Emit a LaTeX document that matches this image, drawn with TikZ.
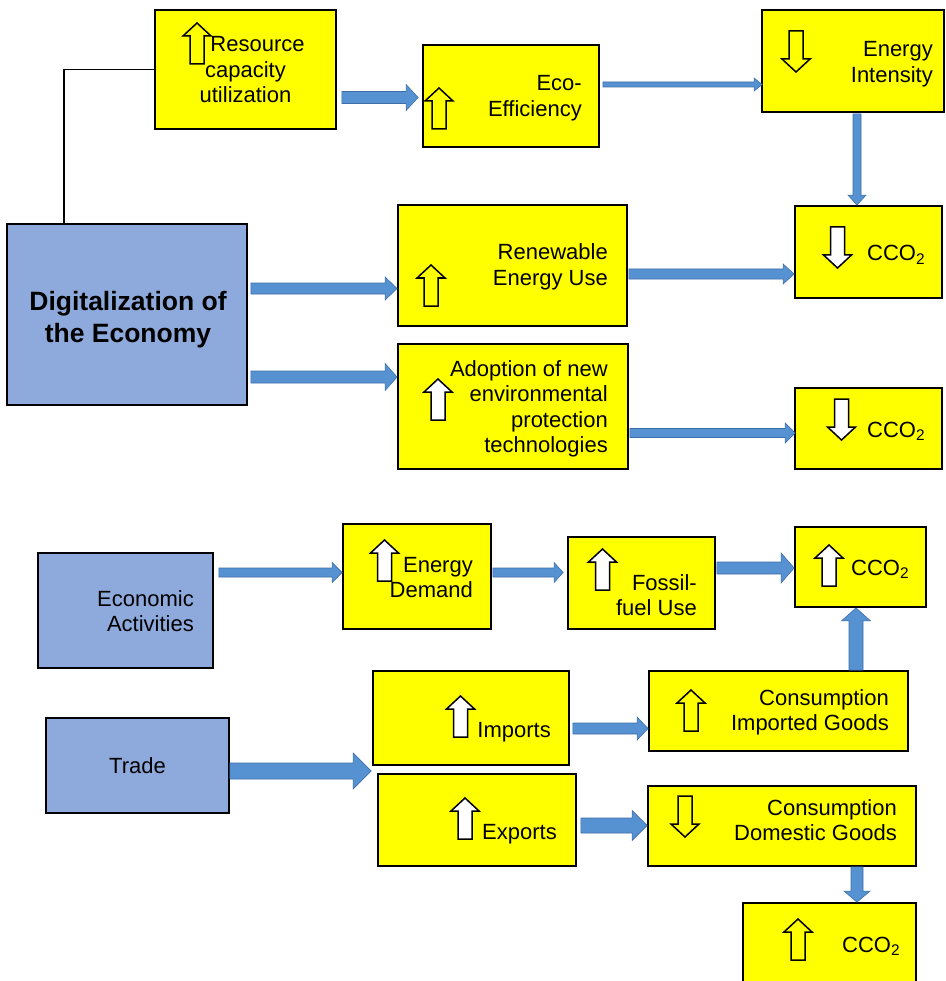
\documentclass[tikz,border=0pt]{standalone}
\usepackage{fontspec}
\setmainfont{Liberation Sans}
\usetikzlibrary{fit,calc}
\definecolor{byel}{RGB}{255,255,0}
\definecolor{bblue}{RGB}{142,169,219}
\definecolor{arrblue}{RGB}{86,146,210}
\definecolor{arrline}{RGB}{62,110,170}
\newcommand\fs{\fontsize{22}{25.5}\selectfont}
\newcommand\rl[1]{\begin{tabular}[t]{@{}r@{}}#1\end{tabular}}
\newcommand\cl[1]{\begin{tabular}[t]{@{}c@{}}#1\end{tabular}}
% block arrow: start, tip, half shaft, half head, head length
\newcommand\barrow[5]{%
  \coordinate (bs) at (#1);
  \coordinate (be) at (#2);
  \coordinate (bh) at ($(be)!#5pt!(bs)$);
  \draw[flowarrow] ($(bs)!#3pt!90:(be)$) -- ($(bh)!#3pt!90:(be)$) -- ($(bh)!#4pt!90:(be)$)
     -- (be) -- ($(bh)!#4pt!-90:(be)$) -- ($(bh)!#3pt!-90:(be)$) -- ($(bs)!#3pt!-90:(be)$) -- cycle;}
% hollow up / down arrows: centre x, top y, fill
\newcommand\hup[3]{\draw[hollow, fill=#3] (#1,#2) -- ++(14,13) -- ++(-7,0) -- ++(0,28) -- ++(-14,0) -- ++(0,-28) -- ++(-7,0) -- cycle;}
\newcommand\hdown[3]{\draw[hollow, fill=#3] (#1,#2+41) -- ++(14,-13) -- ++(-7,0) -- ++(0,-28) -- ++(-14,0) -- ++(0,28) -- ++(-7,0) -- cycle;}
\tikzset{
  ybox/.style={draw=black, line width=1.8pt, fill=byel, inner sep=0pt},
  bbox/.style={draw=black, line width=1.8pt, fill=bblue, inner sep=0pt},
  txt/.style={inner sep=0pt, font=\fs, text=black},
  dtxt/.style={inner sep=0pt, font=\fontsize{26.5}{32}\selectfont\bfseries, text=black},
  flowarrow/.style={fill=arrblue, draw=arrline, line width=0.6pt, line join=miter},
  hollow/.style={draw=black, line width=1.5pt, line join=miter},
  conn/.style={draw=black, line width=1.5pt}
}
\begin{document}
\begin{tikzpicture}[x=1pt, y=-1pt]
\useasboundingbox (0,0) rectangle (945,981);
% boxes
\node[ybox, fit={(155,10) (336,129)}] (res) {};
\node[ybox, fit={(423,45) (599,147)}] (eco) {};
\node[ybox, fit={(762,10) (944,112)}] (ei) {};
\node[ybox, fit={(795,206) (942,298)}] (c1) {};
\node[bbox, fit={(7,224) (247,405)}] (dig) {};
\node[ybox, fit={(398,205) (627,326)}] (ren) {};
\node[ybox, fit={(398,344) (628,469)}] (ado) {};
\node[ybox, fit={(795,388) (942,469)}] (c2) {};
\node[bbox, fit={(38,553) (213,668)}] (eca) {};
\node[bbox, fit={(46,718) (229,813)}] (trd) {};
\node[ybox, fit={(343,524) (491,629)}] (ed) {};
\node[ybox, fit={(568,537) (715,629)}] (fos) {};
\node[ybox, fit={(795,527) (926,607)}] (c3) {};
\node[ybox, fit={(373,671) (569,765)}] (imp) {};
\node[ybox, fit={(378,774) (576,866)}] (exp) {};
\node[ybox, fit={(649,671) (908,751)}] (ci) {};
\node[ybox, fit={(648,786) (916,866)}] (cd) {};
\node[ybox, fit={(743,903) (916,995)}] (c4) {};
% texts
\node[txt, anchor=base] (resT) at (245.5,52) {\cl{\hspace*{24pt}Resource\\capacity\\utilization}};
\node[txt, anchor=base east] (ecoT) at (582,91) {\rl{Eco-\\Efficiency}};
\node[txt, anchor=base east] (eiT) at (933,57) {\rl{Energy\\Intensity}};
\node[txt, anchor=base west] (c1T) at (867,261) {CCO\textsubscript{2}};
\node[txt, anchor=base east] (renT) at (608,260) {\rl{Renewable\\Energy Use}};
\node[txt, anchor=base east] (adoT) at (608,376) {\rl{Adoption of new\\environmental\\protection\\technologies}};
\node[txt, anchor=base west] (c2T) at (867,437) {CCO\textsubscript{2}};
\node[dtxt, anchor=base] (digT) at (128,310) {\cl{Digitalization of\\the Economy}};
\node[txt, anchor=base east] (ecaT) at (194,606) {\rl{Economic\\Activities}};
\node[txt, anchor=base] (trdT) at (137.5,773) {Trade};
\node[txt, anchor=base east] (edT) at (473,572) {\rl{Energy\\Demand}};
\node[txt, anchor=base east] (fosT) at (697,590) {\rl{Fossil-\\fuel Use}};
\node[txt, anchor=base west] (c3T) at (851,575) {CCO\textsubscript{2}};
\node[txt, anchor=base east] (impT) at (551,737) {Imports};
\node[txt, anchor=base east] (expT) at (557,839) {Exports};
\node[txt, anchor=base east] (ciT) at (889,705) {\rl{Consumption\\Imported Goods}};
\node[txt, anchor=base east] (cdT) at (897,815) {\rl{Consumption\\Domestic Goods}};
\node[txt, anchor=base west] (c4T) at (842,952) {CCO\textsubscript{2}};
% hollow trend arrows
\hup{197}{23}{byel}
\hup{439}{88}{byel}
\hdown{796}{31}{byel}
\hdown{837.5}{227}{white}
\hup{431}{265}{byel}
\hup{438}{379}{white}
\hdown{841.5}{399}{white}
\hup{384.5}{540}{white}
\hup{602.5}{549}{white}
\hup{829}{545}{white}
\hup{460.5}{696}{white}
\hup{465}{798}{white}
\hup{691}{690}{byel}
\hdown{685}{796}{byel}
\hup{798}{919}{byel}
% black connector
\draw[conn] ($(dig.north west)+(58,0)$) |- (res.west);
% block arrows
\barrow{$(res.east)+(5,28)$}{$(bs -| eco.west)+(-4,0)$}{6}{13}{12}
\barrow{$(eco.east)+(3,-11.5)$}{$(bs -| ei.west)+(1,0)$}{2.5}{6.5}{8}
\barrow{$(ei.south)+(4,1)$}{bs |- c1.north}{4}{9}{10}
\barrow{$(ren.east)+(1,8.5)$}{bs -| c1.west}{5}{10}{11}
\barrow{$(dig.east)+(3,-26)$}{bs -| ren.west}{5.5}{11.5}{12}
\barrow{$(dig.east)+(3,62.5)$}{bs -| ado.west}{6}{13.5}{12}
\barrow{$(ado.east)+(1,26.5)$}{$(bs -| c2.west)+(1,0)$}{4.5}{10}{10}
\barrow{$(eca.east)+(5,-38)$}{bs -| ed.west}{4.5}{10}{10}
\barrow{$(ed.east)+(1,-4)$}{$(bs -| fos.west)+(-4,0)$}{4.5}{10}{9}
\barrow{$(fos.east)+(1,-15)$}{bs -| c3.west}{6}{15}{13}
\barrow{$(ci.north)+(77.5,0)$}{bs |- c3.south}{7}{14.5}{13}
\barrow{$(trd.east)+(0,5.5)$}{$(bs -| imp.west)+(-1,0)$}{8}{18}{18}
\barrow{$(imp.east)+(3,10.5)$}{bs -| ci.west}{5.5}{11.5}{11}
\barrow{$(exp.east)+(4,5.5)$}{bs -| cd.west}{7.5}{15}{15}
\barrow{$(cd.south)+(75,0)$}{bs |- c4.north}{6}{13}{11}
\end{tikzpicture}
\end{document}
